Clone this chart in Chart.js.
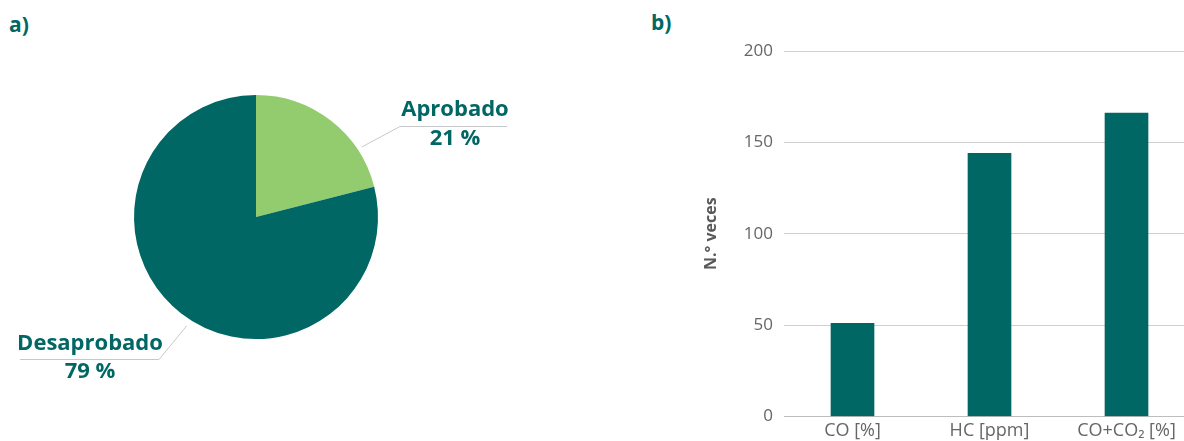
<!DOCTYPE html>
<html>
<head>
<meta charset="utf-8">
<script src="https://cdn.jsdelivr.net/npm/chart.js@4"></script>
<style>
  html, body { margin: 0; padding: 0; background: #fff; overflow: hidden; }
  body { width: 1184px; height: 441px; position: relative; font-family: "Open Sans", sans-serif; }
  .panel-tag { position: absolute; font-weight: 700; font-size: 21px; color: #006764; line-height: 1; }
  #pie-wrap { position: absolute; left: 0; top: 0; width: 640px; height: 441px; }
  #bar-wrap { position: absolute; left: 640px; top: 0; width: 555px; height: 441px; }
</style>
</head>
<body>
<div class="panel-tag" style="left:9px; top:14px;">a)</div>
<div class="panel-tag" style="left:651px; top:12px;">b)</div>
<div id="pie-wrap"><canvas id="pie"></canvas></div>
<div id="bar-wrap"><canvas id="bar"></canvas></div>

<script>
// a) approval share
const pieLabels = ['Aprobado', 'Desaprobado'];
const pieValues = [21, 79];
const pieColors = ['#92cc6e', '#006764'];

// b) number of times each limit was exceeded
const barLabels = ['CO [%]', 'HC [ppm]', 'CO+CO\u2082 [%]'];
const barValues = [51, 144, 166];
const yTicks = [0, 50, 100, 150, 200];

const TEAL = '#006764';
const FONT = '"Open Sans", sans-serif';

// callout labels for the pie: anchor angle on the arc, elbow point, end of underline
const calloutLayout = [
    { angle: -33.5, gap: 5, elbow: [400, 126], end: 507, textX: 455, nameY: 116, pctY: 145 },
    { angle: 122.5, gap: 7, elbow: [159, 359], end: 20, textX: 90, nameY: 350, pctY: 378 }
];

const calloutPlugin = {
    id: 'callouts',
    afterDraw(chart) {
        const ctx = chart.ctx;
        const arc = chart.getDatasetMeta(0).data[0];
        const total = pieValues.reduce((a, b) => a + b, 0);
        ctx.save();
        calloutLayout.forEach((c, i) => {
            const a = c.angle * Math.PI / 180;
            const r = arc.outerRadius + c.gap;
            const ax = arc.x + r * Math.cos(a);
            const ay = arc.y + r * Math.sin(a);
            ctx.strokeStyle = '#c8c8c8';
            ctx.lineWidth = 1;
            ctx.beginPath();
            ctx.moveTo(ax, ay);
            ctx.lineTo(c.elbow[0], c.elbow[1] + 0.5);
            ctx.lineTo(c.end, c.elbow[1] + 0.5);
            ctx.stroke();

            ctx.fillStyle = TEAL;
            ctx.font = `700 22px ${FONT}`;
            ctx.textAlign = 'center';
            ctx.textBaseline = 'alphabetic';
            ctx.fillText(pieLabels[i], c.textX, c.nameY);
            const pct = Math.round(pieValues[i] / total * 100);
            ctx.fillText(pct + ' %', c.textX, c.pctY);
        });
        ctx.restore();
    }
};

new Chart(document.getElementById('pie'), {
    type: 'pie',
    data: {
        labels: pieLabels,
        datasets: [{ data: pieValues, backgroundColor: pieColors, borderWidth: 0 }]
    },
    options: {
        responsive: true,
        maintainAspectRatio: false,
        animation: false,
        layout: { padding: { top: 95, bottom: 102, left: 134, right: 262 } },
        plugins: { legend: { display: false }, tooltip: { enabled: false } }
    },
    plugins: [calloutPlugin]
});

new Chart(document.getElementById('bar'), {
    type: 'bar',
    data: {
        labels: barLabels,
        datasets: [{ data: barValues, backgroundColor: TEAL, barThickness: 43 }]
    },
    options: {
        responsive: true,
        maintainAspectRatio: false,
        animation: false,
        layout: { padding: { top: 51, right: 0, left: 0, bottom: -5 } },
        plugins: { legend: { display: false }, tooltip: { enabled: false } },
        scales: {
            x: {
                grid: { display: false, drawTicks: false },
                border: { display: true, color: '#bdbdbd', width: 1 },
                ticks: { color: '#666', font: { family: FONT, size: 18 }, padding: 4, maxRotation: 0 }
            },
            y: {
                min: 0,
                max: 200,
                afterFit(scale) { scale.width = 144; },
                afterBuildTicks(scale) { scale.ticks = yTicks.map(v => ({ value: v })); },
                border: { display: false },
                grid: { color: '#d0d0d0', drawTicks: false },
                ticks: { color: '#666', font: { family: FONT, size: 17 }, padding: 11 },
                title: {
                    display: true,
                    text: 'N.\u00b0 veces',
                    color: '#595959',
                    font: { family: FONT, size: 16, weight: '700' },
                    padding: { top: 62, bottom: 0 }
                }
            }
        }
    }
});
</script>
</body>
</html>
